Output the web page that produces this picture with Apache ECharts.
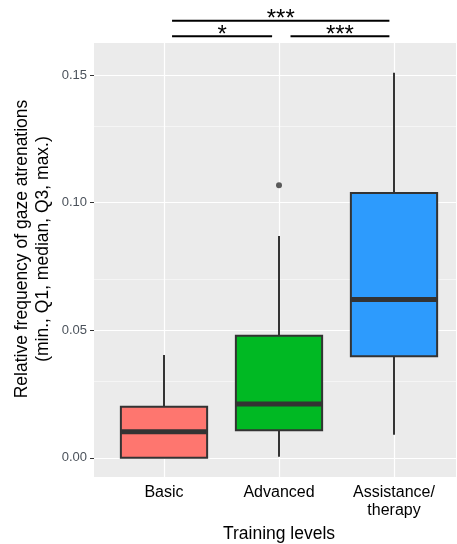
<!DOCTYPE html>
<html>
<head>
<meta charset="utf-8">
<script src="https://cdn.jsdelivr.net/npm/echarts@6/dist/echarts.min.js"></script>
<style>
html,body{margin:0;padding:0;background:#fff;}
#chart{width:457px;height:544px;}
</style>
</head>
<body>
<div id="chart"></div>
<script>
// ---- data ----
const categories = ['Basic', 'Advanced', 'Assistance/\ntherapy'];
const mins    = [0.0000, 0.0004, 0.0091];
const q1s     = [0.0000, 0.0108, 0.0398];
const medians = [0.0102, 0.0211, 0.0621];
const q3s     = [0.0200, 0.0479, 0.1038];
const maxs    = [0.0403, 0.0870, 0.1509];
const outlierCats = [1];
const outlierVals = [0.1068];
const yTicks = [0, 0.05, 0.10, 0.15];
const yMinorTicks = [0.025, 0.075, 0.125];
// significance brackets (x in category index units, y in data units)
const bracketStart = [0.07, 0.07, 1.10];
const bracketEnd   = [1.96, 0.94, 1.96];
const bracketLevel = [0.1713, 0.1653, 0.1653];
const bracketLabel = ['***', '*', '***'];

const fillColors = ['#FE766F', '#00B923', '#2D9BFD'];
const FONT = '"Liberation Sans", Arial, sans-serif';
const Y_MIN = -0.0075, Y_MAX = 0.1626, Y_TOP = 0.1795;

const chart = echarts.init(document.getElementById('chart'), null, {renderer: 'canvas'});

const option = {
  animation: false,
  backgroundColor: '#ffffff',
  textStyle: {fontFamily: FONT},
  grid: [
    {left: 94, right: 1, top: 43, bottom: 67, show: true, backgroundColor: '#EBEBEB', borderWidth: 0, containLabel: false, outerBoundsMode: 'none'},
    {left: 106.5, width: 345, top: 43, bottom: 67, containLabel: false, outerBoundsMode: 'none'},
    {left: 106.5, width: 345, top: 0, height: 43, containLabel: false, outerBoundsMode: 'none'}
  ],
  xAxis: [
    {gridIndex: 0, type: 'value', min: 0, max: 1, show: false},
    {gridIndex: 1, type: 'category', data: categories,
     axisLine: {show: false},
     axisTick: {show: true, alignWithLabel: true, length: 4, lineStyle: {color: '#333333', width: 1}},
     axisLabel: {color: '#000000', fontSize: 16, margin: 7, lineHeight: 18, fontFamily: FONT},
     splitLine: {show: false},
     name: 'Training levels', nameLocation: 'middle', nameGap: 44,
     nameTextStyle: {color: '#000000', fontSize: 17.5, fontFamily: FONT}},
    {gridIndex: 2, type: 'value', min: -0.5, max: 2.5, show: false}
  ],
  yAxis: [
    {gridIndex: 0, type: 'value', min: Y_MIN, max: Y_MAX,
     axisLine: {show: false},
     axisTick: {show: true, length: 4, customValues: yTicks, lineStyle: {color: '#333333', width: 1}},
     axisLabel: {customValues: yTicks, formatter: v => v.toFixed(2), color: '#4B525B', fontSize: 13, margin: 7, fontFamily: FONT},
     splitLine: {show: false}, minorSplitLine: {show: false}},
    {gridIndex: 1, type: 'value', min: Y_MIN, max: Y_MAX, show: false, splitLine: {show: false}},
    {gridIndex: 2, type: 'value', min: Y_MAX, max: Y_TOP, show: false, splitLine: {show: false}}
  ],
  graphic: [
    {type: 'text', x: 33, y: 249, rotation: Math.PI / 2,
     style: {text: 'Relative frequency of gaze atrenations\n(min., Q1, median, Q3, max.)',
             fill: '#000000', font: '17.5px ' + FONT, align: 'center', verticalAlign: 'middle', lineHeight: 21}}
  ],
  series: [
    { // horizontal panel grid lines
      type: 'line', xAxisIndex: 0, yAxisIndex: 0, data: [], z: 1, silent: true,
      markLine: {silent: true, z: 1, symbol: ['none', 'none'], label: {show: false}, animation: false,
        data: yMinorTicks.map(v => ({yAxis: v, lineStyle: {color: '#F7F7F7', width: 0.8, type: 'solid'}}))
          .concat(yTicks.map(v => ({yAxis: v, lineStyle: {color: '#FFFFFF', width: 1.2, type: 'solid'}})))}
    },
    { // vertical panel grid lines at categories
      type: 'line', xAxisIndex: 1, yAxisIndex: 1, data: [], z: 1, silent: true,
      markLine: {silent: true, z: 1, symbol: ['none', 'none'], label: {show: false}, animation: false,
        data: categories.map((c, i) => ({xAxis: i, lineStyle: {color: '#FFFFFF', width: 1.2, type: 'solid'}}))}
    },
    { // boxes
      type: 'custom', xAxisIndex: 1, yAxisIndex: 1, z: 10,
      data: categories.map((c, i) => [i, mins[i], q1s[i], medians[i], q3s[i], maxs[i]]),
      encode: {x: 0, y: [1, 2, 3, 4, 5]},
      renderItem: function (params, api) {
        const idx = api.value(0);
        const pMin = api.coord([idx, api.value(1)]);
        const pQ1 = api.coord([idx, api.value(2)]);
        const pMed = api.coord([idx, api.value(3)]);
        const pQ3 = api.coord([idx, api.value(4)]);
        const pMax = api.coord([idx, api.value(5)]);
        const band = api.size([1, 0])[0];
        const hw = band * 0.75 / 2;
        const cx = pMin[0];
        const ln = '#333333';
        return {type: 'group', children: [
          {type: 'line', shape: {x1: cx, y1: pMin[1], x2: cx, y2: pQ1[1]}, style: {stroke: ln, lineWidth: 2}},
          {type: 'line', shape: {x1: cx, y1: pQ3[1], x2: cx, y2: pMax[1]}, style: {stroke: ln, lineWidth: 2}},
          {type: 'rect', shape: {x: cx - hw, y: pQ3[1], width: 2 * hw, height: pQ1[1] - pQ3[1]},
           style: {fill: fillColors[idx], stroke: ln, lineWidth: 2}},
          {type: 'line', shape: {x1: cx - hw, y1: pMed[1], x2: cx + hw, y2: pMed[1]}, style: {stroke: ln, lineWidth: 5}}
        ]};
      }
    },
    { // outliers
      type: 'scatter', xAxisIndex: 1, yAxisIndex: 1, z: 11,
      data: outlierCats.map((c, i) => [c, outlierVals[i]]),
      symbol: 'circle', symbolSize: 6, itemStyle: {color: '#333333'}
    },
    { // significance brackets
      type: 'custom', xAxisIndex: 2, yAxisIndex: 2, z: 12, clip: false,
      data: bracketStart.map((s, i) => [s, bracketEnd[i], bracketLevel[i]]),
      encode: {x: [0, 1], y: 2},
      renderItem: function (params, api) {
        const p1 = api.coord([api.value(0), api.value(2)]);
        const p2 = api.coord([api.value(1), api.value(2)]);
        return {type: 'group', children: [
          {type: 'line', shape: {x1: p1[0], y1: p1[1], x2: p2[0], y2: p1[1]}, style: {stroke: '#000000', lineWidth: 2}},
          {type: 'text', x: (p1[0] + p2[0]) / 2, y: p1[1] - 1,
           style: {text: bracketLabel[params.dataIndex], fill: '#000000', font: '24px ' + FONT, align: 'center', verticalAlign: 'middle'}}
        ]};
      }
    }
  ]
};
chart.setOption(option);
</script>
</body>
</html>
